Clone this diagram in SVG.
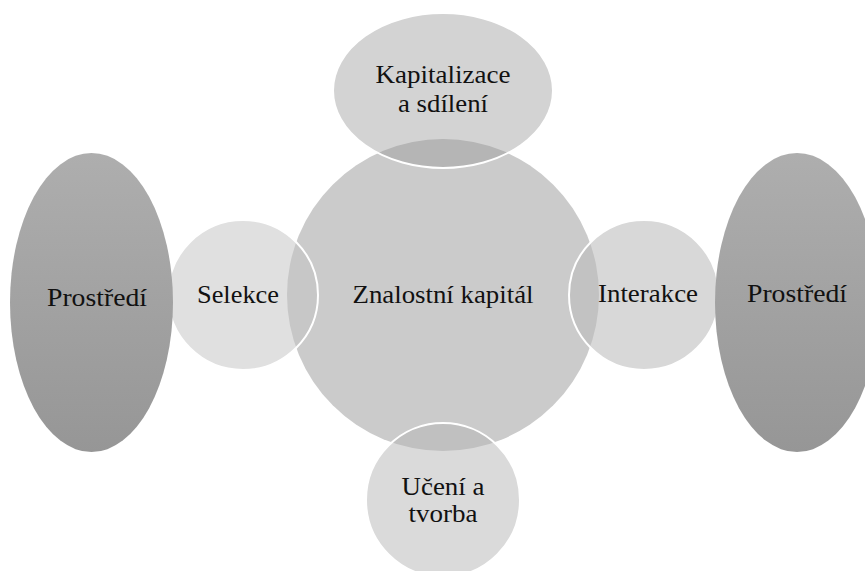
<svg xmlns="http://www.w3.org/2000/svg" width="865" height="571" viewBox="0 0 865 571">
<defs>
<linearGradient id="envGrad" x1="0" y1="0" x2="0" y2="1">
<stop offset="0" stop-color="#aeaeae"/>
<stop offset="1" stop-color="#969696"/>
</linearGradient>
<style>
.lbl{font-family:'Liberation Serif','DejaVu Serif','Times New Roman',Times,serif;font-size:25px;fill:#111;text-anchor:middle}
.sat{stroke:#fff;stroke-width:2}
</style>
</defs>
<rect width="865" height="571" fill="#fff"/>
<g id="center">
<circle cx="443" cy="295" r="156" fill="#cbcbcb"/>
</g>
<g id="kapitalizace">
<ellipse class="sat" cx="443" cy="90.5" rx="110" ry="77.5" fill="#979797" fill-opacity="0.42"/>
</g>
<g id="selekce">
<circle class="sat" cx="243" cy="295" r="75" fill="#c3c3c3" fill-opacity="0.52"/>
</g>
<g id="interakce">
<circle class="sat" cx="644" cy="295" r="75" fill="#bcbcbc" fill-opacity="0.58"/>
</g>
<g id="uceni">
<circle class="sat" cx="443" cy="500" r="77" fill="#b5b5b5" fill-opacity="0.5"/>
</g>
<g id="prostredi-left">
<ellipse cx="91.5" cy="302.5" rx="81.5" ry="149.5" fill="url(#envGrad)"/>
</g>
<g id="prostredi-right">
<ellipse cx="797" cy="302.5" rx="82" ry="149.5" fill="url(#envGrad)"/>
</g>
<g id="labels">
<text class="lbl" x="443" y="83" textLength="135" lengthAdjust="spacingAndGlyphs">Kapitalizace</text>
<text class="lbl" x="443" y="112" textLength="90" lengthAdjust="spacingAndGlyphs">a sdílení</text>
<text class="lbl" x="443" y="303" textLength="181" lengthAdjust="spacingAndGlyphs">Znalostní kapitál</text>
<text class="lbl" x="238" y="303" textLength="82" lengthAdjust="spacingAndGlyphs">Selekce</text>
<text class="lbl" x="648" y="302" textLength="100" lengthAdjust="spacingAndGlyphs">Interakce</text>
<text class="lbl" x="443" y="495" textLength="83" lengthAdjust="spacingAndGlyphs">Učení a</text>
<text class="lbl" x="443" y="522" textLength="69" lengthAdjust="spacingAndGlyphs">tvorba</text>
<text class="lbl" x="97" y="306" textLength="100" lengthAdjust="spacingAndGlyphs">Prostředí</text>
<text class="lbl" x="797" y="302" textLength="100" lengthAdjust="spacingAndGlyphs">Prostředí</text>
</g>
</svg>
